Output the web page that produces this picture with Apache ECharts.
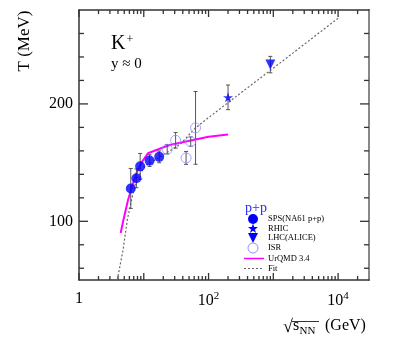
<!DOCTYPE html>
<html>
<head>
<meta charset="utf-8">
<script src="https://cdn.jsdelivr.net/npm/echarts@6/dist/echarts.min.js"></script>
<style>
  html, body { margin: 0; padding: 0; background: #fff; }
  #chart { width: 399px; height: 351px; }
</style>
</head>
<body>
<div id="chart"></div>
<script>
// values
const spsEnergy = [6.3, 7.7, 8.8, 12.3, 17.3];
const spsT = [128, 136.6, 146.8, 151.7, 154.9];
const spsErr = [17, 8, 11, 5, 5];

const rhicEnergy = [200];
const rhicT = [205.6];
const rhicErr = [10.5];

const lhcEnergy = [900];
const lhcT = [233.5];
const lhcErr = [7];

const isrEnergy = [23, 31, 45, 53, 63];
const isrT = [161.4, 169, 154, 167.9, 179.6];
const isrErr = [4, 6.7, 5.5, 4, 31];

const urqmdEnergy = [4.4, 4.8, 5.7, 6.8, 8.1, 9.5, 11.6, 25, 100, 200];
const urqmdT = [90, 100, 118, 132, 144, 151, 158, 165, 172, 174];

const fitEnergy = [3.9, 4.8, 5.6, 6.5, 7.7, 10.4, 15.7, 22.3, 36, 63, 124, 1480, 10000];
const fitT = [50, 76, 102, 118.5, 135.5, 146.8, 153.2, 158.3, 165.3, 179.6, 192.3, 237.7, 273];

const xMajorTicks = [1, 10, 100, 1000, 10000];
const xLabelTicks = [1, 100, 10000];
const yMajorTicks = [100, 200];
const yMinorTicks = [60, 80, 120, 140, 160, 180, 220, 240, 260];

const xMinorTicks = [];
for (let d = 1; d <= 10000; d *= 10) {
  for (let k = 2; k <= 9; k++) {
    if (k * d < 30000) xMinorTicks.push(k * d);
  }
}

const X_MIN = 1, X_MAX = 30000, Y_MIN = 50, Y_MAX = 280;

const serif = "Liberation Serif";
const blue = "#0000ff";
const isrColor = "#8f8fff";
const errColor = "#555";
const tickColor = "#333";

const STAR_PTS = [[5,0],[6.2,3.6],[10,3.6],[6.9,5.9],[8.1,9.5],[5,7.3],[1.9,9.5],[3.1,5.9],[0,3.6],[3.8,3.6]];
const TRI_PTS = [[0,0],[10,0],[5,10]];
const toPath = pts => "path://M" + pts.map(p => p.join(",")).join("L") + "Z";

function zip3(a, b, c) {
  return a.map((v, i) => [v, b[i], c[i]]);
}
function zip2(a, b) {
  return a.map((v, i) => [v, b[i]]);
}
function placed(pts, cx, cy) {
  return pts.map(p => [cx - 5 + p[0], cy - 5 + p[1]]);
}

function errRender(params, api) {
  const x = api.value(0), y = api.value(1), e = api.value(2);
  const top = api.coord([x, y + e]);
  const bot = api.coord([x, y - e]);
  const hw = 2;
  const st = { stroke: errColor, lineWidth: 1 };
  return {
    type: "group",
    children: [
      { type: "line", shape: { x1: top[0], y1: top[1], x2: bot[0], y2: bot[1] }, style: st },
      { type: "line", shape: { x1: top[0] - hw, y1: top[1], x2: top[0] + hw, y2: top[1] }, style: st },
      { type: "line", shape: { x1: bot[0] - hw, y1: bot[1], x2: bot[0] + hw, y2: bot[1] }, style: st }
    ]
  };
}

// ticks pointing inward on both opposite frame sides
function xTickRender(params, api) {
  const v = api.value(0), len = api.value(2);
  const b = api.coord([v, Y_MIN]);
  const t = api.coord([v, Y_MAX]);
  const st = { stroke: tickColor, lineWidth: 1.3 };
  return {
    type: "group",
    children: [
      { type: "line", shape: { x1: b[0], y1: b[1], x2: b[0], y2: b[1] - len }, style: st },
      { type: "line", shape: { x1: t[0], y1: t[1], x2: t[0], y2: t[1] + len }, style: st }
    ]
  };
}
function yTickRender(params, api) {
  const v = api.value(1), len = api.value(2);
  const l = api.coord([X_MIN, v]);
  const r = api.coord([X_MAX, v]);
  const st = { stroke: tickColor, lineWidth: 1.3 };
  return {
    type: "group",
    children: [
      { type: "line", shape: { x1: l[0], y1: l[1], x2: l[0] + len, y2: l[1] }, style: st },
      { type: "line", shape: { x1: r[0], y1: r[1], x2: r[0] - len, y2: r[1] }, style: st }
    ]
  };
}

const xTickData = xMajorTicks.map(v => [v, Y_MIN, 7]).concat(xMinorTicks.map(v => [v, Y_MIN, 4]));
const yTickData = yMajorTicks.map(v => [X_MIN, v, 9]).concat(yMinorTicks.map(v => [X_MIN, v, 5]));

const chart = echarts.init(document.getElementById("chart"), null, { renderer: "canvas" });

const legendX = 253;
const legendTextX = 268;
const legendRows = [219, 228.5, 238, 248, 258.5, 268.5];
const legendFont = { fontFamily: serif, fontSize: 8.5, fill: "#000", verticalAlign: "middle" };

chart.setOption({
  animation: false,
  backgroundColor: "#fff",
  grid: { left: 79, right: 30, top: 10, bottom: 71, outerBoundsMode: "none" },
  xAxis: [
    {
      type: "log",
      logBase: 10,
      min: X_MIN,
      max: X_MAX,
      position: "bottom",
      axisLine: { show: true, lineStyle: { color: "#333", width: 1.5 } },
      axisTick: { show: false },
      axisLabel: {
        show: true,
        customValues: xLabelTicks,
        margin: 11,
        color: "#000",
        fontFamily: serif,
        fontSize: 16,
        formatter: function (v) {
          if (v === 1) return "{b|1}";
          return "{b|10}{sup|" + Math.round(Math.log10(v)) + "}";
        },
        rich: {
          b: { fontFamily: serif, fontSize: 16, color: "#000", verticalAlign: "bottom" },
          sup: { fontFamily: serif, fontSize: 11, color: "#000", verticalAlign: "bottom", padding: [0, 0, 7, 0] }
        }
      },
      splitLine: { show: false }
    },
    {
      type: "log",
      logBase: 10,
      min: X_MIN,
      max: X_MAX,
      position: "top",
      axisLine: { show: true, lineStyle: { color: "#333", width: 1.5 } },
      axisTick: { show: false },
      axisLabel: { show: false },
      splitLine: { show: false }
    }
  ],
  yAxis: [
    {
      type: "value",
      min: Y_MIN,
      max: Y_MAX,
      position: "left",
      axisLine: { show: true, lineStyle: { color: "#333", width: 1.5 } },
      axisTick: { show: false },
      axisLabel: { show: true, customValues: yMajorTicks, margin: 6, color: "#000", fontFamily: serif, fontSize: 16 },
      splitLine: { show: false }
    },
    {
      type: "value",
      min: Y_MIN,
      max: Y_MAX,
      position: "right",
      axisLine: { show: true, lineStyle: { color: "#888", width: 2 } },
      axisTick: { show: false },
      axisLabel: { show: false },
      splitLine: { show: false }
    }
  ],
  series: [
    {
      type: "custom",
      renderItem: xTickRender,
      data: xTickData,
      encode: { x: 0, y: 1 },
      clip: false,
      z: 1
    },
    {
      type: "custom",
      renderItem: yTickRender,
      data: yTickData,
      encode: { x: 0, y: 1 },
      clip: false,
      z: 1
    },
    {
      name: "Fit",
      type: "line",
      data: zip2(fitEnergy, fitT),
      showSymbol: false,
      symbol: "none",
      lineStyle: { color: "#666", width: 1.2, type: [2, 2] },
      z: 2
    },
    {
      name: "UrQMD 3.4",
      type: "line",
      data: zip2(urqmdEnergy, urqmdT),
      showSymbol: false,
      symbol: "none",
      lineStyle: { color: "#ff00ff", width: 2 },
      z: 3
    },
    {
      type: "custom",
      renderItem: errRender,
      data: zip3(spsEnergy, spsT, spsErr)
        .concat(zip3(rhicEnergy, rhicT, rhicErr))
        .concat(zip3(lhcEnergy, lhcT, lhcErr))
        .concat(zip3(isrEnergy, isrT, isrErr)),
      encode: { x: 0, y: 1 },
      z: 4
    },
    {
      name: "ISR",
      type: "scatter",
      data: zip2(isrEnergy, isrT),
      symbol: "circle",
      symbolSize: 10,
      itemStyle: { color: "rgba(255,255,255,0)", borderColor: isrColor, borderWidth: 1 },
      z: 5
    },
    {
      name: "SPS(NA61 p+p)",
      type: "scatter",
      data: zip2(spsEnergy, spsT),
      symbol: "circle",
      symbolSize: 10,
      itemStyle: { color: blue },
      z: 6
    },
    {
      name: "RHIC",
      type: "scatter",
      data: zip2(rhicEnergy, rhicT),
      symbol: toPath(STAR_PTS),
      symbolSize: 10,
      itemStyle: { color: blue },
      z: 6
    },
    {
      name: "LHC(ALICE)",
      type: "scatter",
      data: zip2(lhcEnergy, lhcT),
      symbol: toPath(TRI_PTS),
      symbolSize: [10, 10],
      itemStyle: { color: blue },
      z: 6
    }
  ],
  graphic: [
    // axis titles
    {
      type: "text",
      x: 25,
      y: 41,
      rotation: Math.PI / 2,
      style: { text: "T (MeV)", fontFamily: serif, fontSize: 17, fill: "#000", align: "center", verticalAlign: "middle" }
    },
    { type: "text", x: 283, y: 336, style: { text: "\u221a", fontFamily: serif, fontSize: 18, fill: "#000", verticalAlign: "bottom" } },
    { type: "line", shape: { x1: 292, y1: 321.5, x2: 319, y2: 321.5 }, style: { stroke: "#000", lineWidth: 0.8 } },
    { type: "text", x: 293, y: 334, style: { text: "s", fontFamily: serif, fontSize: 16, fill: "#000", verticalAlign: "bottom" } },
    { type: "text", x: 299.5, y: 336.5, style: { text: "NN", fontFamily: serif, fontSize: 11, fill: "#000", verticalAlign: "bottom" } },
    { type: "text", x: 325, y: 334, style: { text: "(GeV)", fontFamily: serif, fontSize: 16, fill: "#000", verticalAlign: "bottom" } },
    // annotations
    { type: "text", x: 111, y: 54, style: { text: "K", fontFamily: serif, fontSize: 20, fill: "#000", verticalAlign: "bottom" } },
    { type: "text", x: 126.5, y: 46, style: { text: "+", fontFamily: serif, fontSize: 12, fill: "#000", verticalAlign: "bottom" } },
    { type: "text", x: 111, y: 72, style: { text: "y \u2248 0", fontFamily: serif, fontSize: 15, fill: "#000", verticalAlign: "bottom" } },
    // legend
    { type: "text", x: 256, y: 208, style: { text: "p+p", fontFamily: serif, fontSize: 14, fill: "#2a2aff", align: "center", verticalAlign: "middle" } },
    { type: "circle", shape: { cx: legendX, cy: legendRows[0], r: 5 }, style: { fill: blue } },
    { type: "polygon", shape: { points: placed(STAR_PTS, legendX, legendRows[1]) }, style: { fill: blue } },
    { type: "polygon", shape: { points: placed(TRI_PTS, legendX, legendRows[2]) }, style: { fill: blue } },
    { type: "circle", shape: { cx: legendX, cy: legendRows[3], r: 5 }, style: { fill: "none", stroke: isrColor, lineWidth: 1 } },
    { type: "line", shape: { x1: 244, y1: legendRows[4], x2: 264, y2: legendRows[4] }, style: { stroke: "#ff00ff", lineWidth: 1.5 } },
    { type: "line", shape: { x1: 244, y1: legendRows[5], x2: 263, y2: legendRows[5] }, style: { stroke: "#666", lineWidth: 1, lineDash: [2, 2] } },
    { type: "text", x: legendTextX, y: legendRows[0], style: Object.assign({ text: "SPS(NA61 p+p)" }, legendFont) },
    { type: "text", x: legendTextX, y: legendRows[1], style: Object.assign({ text: "RHIC" }, legendFont) },
    { type: "text", x: legendTextX, y: legendRows[2], style: Object.assign({ text: "LHC(ALICE)" }, legendFont) },
    { type: "text", x: legendTextX, y: legendRows[3], style: Object.assign({ text: "ISR" }, legendFont) },
    { type: "text", x: legendTextX, y: legendRows[4], style: Object.assign({ text: "UrQMD 3.4" }, legendFont) },
    { type: "text", x: legendTextX, y: legendRows[5], style: Object.assign({ text: "Fit" }, legendFont) }
  ]
});
</script>
</body>
</html>
